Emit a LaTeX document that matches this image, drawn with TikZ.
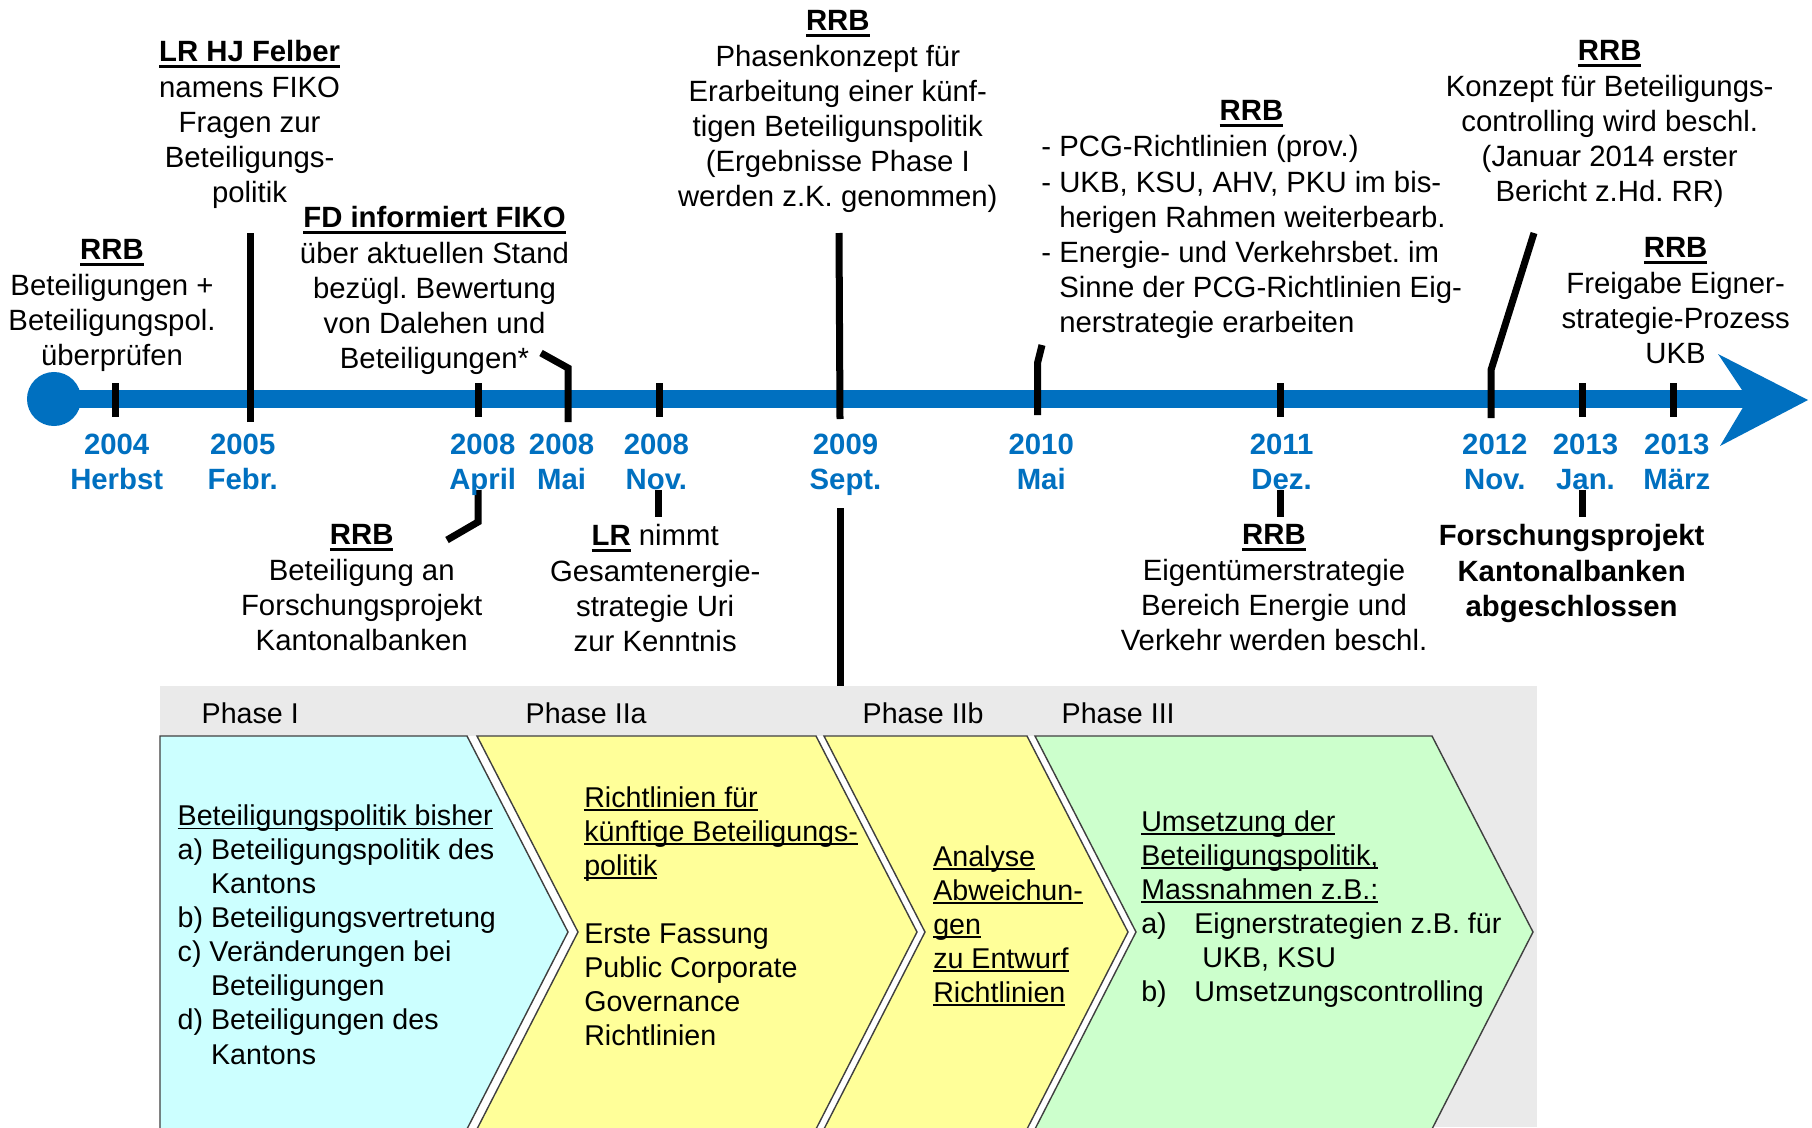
\documentclass[tikz,border=0pt]{standalone}
\usepackage{fontspec}
\setmainfont{Liberation Sans}
\frenchspacing

\definecolor{tlblue}{HTML}{0070C0}
\definecolor{phasegrey}{HTML}{EAEAEA}
\definecolor{cyanfill}{HTML}{CCFFFF}
\definecolor{yellowfill}{HTML}{FFFF99}
\definecolor{greenfill}{HTML}{CCFFCC}
\definecolor{edgegrey}{HTML}{404040}

% bold title with heavy underline, plain text with thin underline
\newcommand{\headul}[1]{\mbox{\setbox0\hbox{\textbf{#1}}\rlap{\rule[-1.8pt]{\wd0}{0.9pt}}\box0}}
\newcommand{\lineul}[1]{\mbox{\setbox0\hbox{#1}\rlap{\rule[-1.0pt]{\wd0}{0.43pt}}\box0}}

\begin{document}
\begin{tikzpicture}[
    x=0.01cm, y=-0.01cm,
    txt/.style={font=\fontsize{8.34}{10}\selectfont, inner sep=0pt, align=center, anchor=north},
    boldtxt/.style={txt, font=\fontsize{8.34}{10}\selectfont\bfseries},
    datelabel/.style={boldtxt, text=tlblue},
    phasetxt/.style={font=\fontsize{8.14}{9.67}\selectfont, inner sep=0pt, align=left, anchor=north west},
    timeline/.style={line width=0.18cm, tlblue},
    ticmark/.style={line width=0.07cm, black},
    chevron/.style={draw=edgegrey, line width=0.4pt}
]

\useasboundingbox (0,0) rectangle (1812,1127);
\fill[white] (0,0) rectangle (1812,1127);

% Timeline with start dot and arrow head
\node[circle, fill=tlblue, minimum size=0.54cm, inner sep=0pt] (start) at (54,399) {};
\coordinate (tlend) at (1748,399);
\draw[timeline] (start.center) -- (tlend);
\fill[tlblue] (1718,354) -- (1808,400) -- (1720,446) -- (tlend) -- cycle;

% Short tick marks
\draw[ticmark] (115.5,383) -- (115.5,417);
\draw[ticmark] (478,383) -- (478,417);
\draw[ticmark] (659,383) -- (659,417);
\draw[ticmark] (1280,383) -- (1280,417);
\draw[ticmark] (1582,383) -- (1582,417);
\draw[ticmark] (1673,383) -- (1673,417);

% Pointers to the events above the timeline
\coordinate (p2005) at (250,233);
\coordinate (p2008m) at (541,353);
\coordinate (p2009) at (839,233);
\coordinate (p2010) at (1042,345);
\coordinate (p2012) at (1534,233);
\draw[ticmark] (250,422) -- (p2005);
\draw[ticmark] (568,422) -- (568,368) -- (p2008m);
\draw[ticmark] (840,419) -- (p2009);
\draw[ticmark] (1037.5,415) -- (1037.5,363) -- (p2010);
\draw[ticmark] (1491,418) -- (1491,370) -- (p2012);

% Pointers to the events below the timeline
\coordinate (q2008a) at (447,540);
\coordinate (q2009) at (840.5,687);
\draw[ticmark] (478,490) -- (478,522) -- (q2008a);
\draw[ticmark] (658,490) -- (658,517);
\draw[ticmark] (840.5,508) -- (q2009);
\draw[ticmark] (1280,490) -- (1280,517);
\draw[ticmark] (1582,490) -- (1582,517);

% Date labels
\node[datelabel] (l2004) at (116.7,433) {2004\\Herbst};
\node[datelabel] (l2005) at (242.7,433) {2005\\Febr.};
\node[datelabel] (l2008a) at (482.7,433) {2008\\April};
\node[datelabel] (l2008m) at (561.6,433) {2008\\Mai};
\node[datelabel] (l2008n) at (656.4,433) {2008\\Nov.};
\node[datelabel] (l2009) at (845.5,433) {2009\\Sept.};
\node[datelabel] (l2010) at (1041.2,433) {2010\\Mai};
\node[datelabel] (l2011) at (1281.6,433) {2011\\Dez.};
\node[datelabel] (l2012) at (1494.8,433) {2012\\Nov.};
\node[datelabel] (l2013j) at (1585.5,433) {2013\\Jan.};
\node[datelabel] (l2013m) at (1676.8,433) {2013\\März};

% Events above the timeline
\node[txt] (rrbHerbst) at (112,239) {\headul{RRB}\\Beteiligungen +\\Beteiligungspol.\\überprüfen};
\node[txt] (felber) at (249.6,40) {\headul{LR HJ Felber}\\namens FIKO\\Fragen zur\\Beteiligungs-\\politik};
\node[txt] (fdFiko) at (434.5,206) {\headul{FD informiert FIKO}\\über aktuellen Stand\\bezügl. Bewertung\\von Dalehen und\\Beteiligungen*};
\node[txt] (rrbSept) at (837.8,10) {\headul{RRB}\\Phasenkonzept für\\Erarbeitung einer künf-\\tigen Beteiligunspolitik\\(Ergebnisse Phase I\\werden z.K. genommen)};
\node[txt] (rrbMai) at (1251.5,100) {\headul{RRB}};
\node[txt, align=left, anchor=north west] (pcgList) at (1040.7,135) {- PCG-Richtlinien (prov.)\\- UKB, KSU, AHV, PKU im bis-\\\hphantom{- }herigen Rahmen weiterbearb.\\- Energie- und Verkehrsbet. im\\\hphantom{- }Sinne der PCG-Richtlinien Eig-\\\hphantom{- }nerstrategie erarbeiten};
\node[txt] (rrbNov) at (1609.7,40) {\headul{RRB}\\Konzept für Beteiligungs-\\controlling wird beschl.\\(Januar 2014 erster\\Bericht z.Hd. RR)};
\node[txt] (rrbMaerz) at (1675.6,237) {\headul{RRB}\\Freigabe Eigner-\\strategie-Prozess\\UKB};

% Events below the timeline
\node[txt] (rrbApril) at (361.7,524) {\headul{RRB}\\Beteiligung an\\Forschungsprojekt\\Kantonalbanken};
\node[txt] (lrUri) at (655.2,524) {\headul{LR} nimmt\\Gesamtenergie-\\strategie Uri\\zur Kenntnis};
\node[txt] (rrbDez) at (1274,524) {\headul{RRB}\\Eigentümerstrategie\\Bereich Energie und\\Verkehr werden beschl.};
\node[boldtxt] (fpDone) at (1571.6,524) {Forschungsprojekt\\Kantonalbanken\\abgeschlossen};

% Phase band
\fill[phasegrey] (160,686) rectangle (1537,1127);
\node[phasetxt] (ph1) at (201,702) {Phase I};
\node[phasetxt] (ph2a) at (525,702) {Phase IIa};
\node[phasetxt] (ph2b) at (862,702) {Phase IIb};
\node[phasetxt] (ph3) at (1061,702) {Phase III};

% Chevrons (white gaps between them)
\fill[white] (160,736) -- (1432,736) -- (1533,932) -- (1432,1129) -- (160,1129) -- cycle;
\filldraw[chevron, fill=cyanfill] (160,736) -- (467,736) -- (568,932) -- (467,1129) -- (160,1129) -- cycle;
\filldraw[chevron, fill=yellowfill] (477,736) -- (816,736) -- (917,932) -- (816,1129) -- (477,1129) -- (578,932) -- cycle;
\filldraw[chevron, fill=yellowfill] (824,736) -- (1027,736) -- (1128,932) -- (1027,1129) -- (824,1129) -- (925,932) -- cycle;
\filldraw[chevron, fill=greenfill] (1035,736) -- (1432,736) -- (1533,932) -- (1432,1129) -- (1035,1129) -- (1136,932) -- cycle;

% Phase contents
\node[phasetxt] (c1txt) at (177,804.5) {\lineul{Beteiligungspolitik bisher}\\a) Beteiligungspolitik des\\\hphantom{a) }Kantons\\b) Beteiligungsvertretung\\c) Veränderungen bei\\\hphantom{a) }Beteiligungen\\d) Beteiligungen des\\\hphantom{a) }Kantons};
\node[phasetxt] (c2txt) at (583.6,786) {\lineul{Richtlinien für}\\\lineul{künftige Beteiligungs-}\\\lineul{politik}\\\mbox{}\\Erste Fassung\\Public Corporate\\Governance\\Richtlinien};
\node[phasetxt] (c3txt) at (932.6,845) {\lineul{Analyse}\\\lineul{Abweichun-}\\\lineul{gen}\\\lineul{zu Entwurf}\\\lineul{Richtlinien}};
\node[phasetxt] (c4txt) at (1140.6,810) {\lineul{Umsetzung der}\\\lineul{Beteiligungspolitik,}\\\lineul{Massnahmen z.B.:}\\\makebox[0.53cm][l]{a)}Eignerstrategien z.B. für\\\hspace*{0.61cm}UKB, KSU\\\makebox[0.53cm][l]{b)}Umsetzungscontrolling};

\end{tikzpicture}
\end{document}
